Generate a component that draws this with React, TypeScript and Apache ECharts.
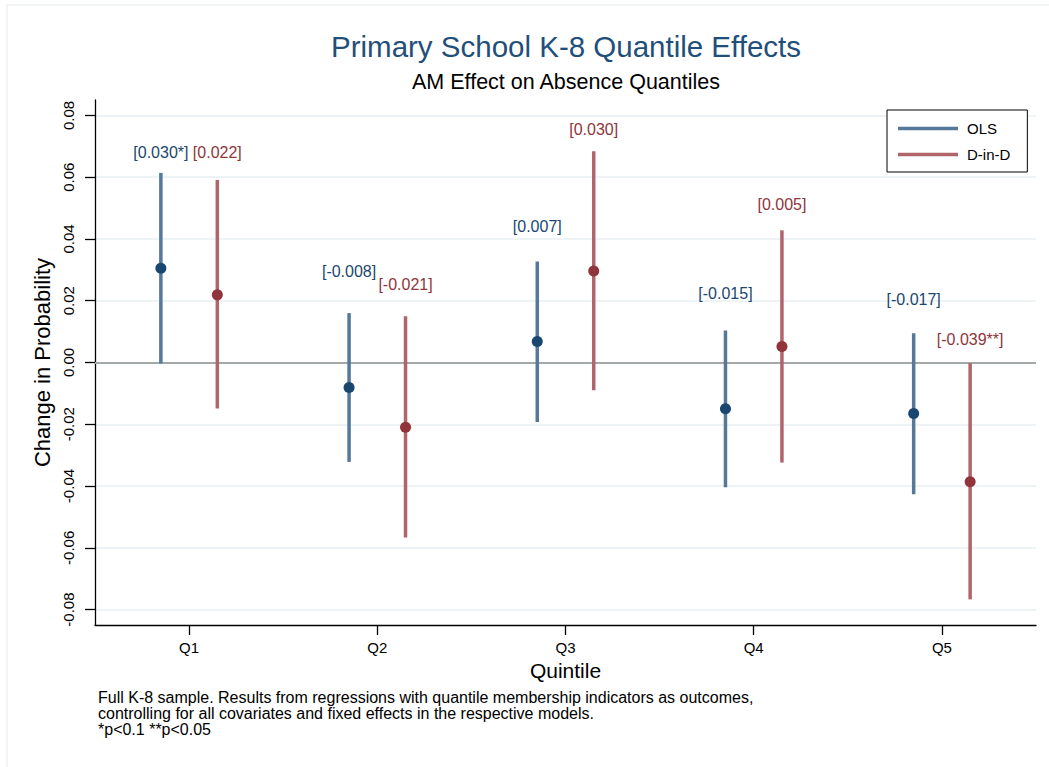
import React, { useEffect, useRef } from "react";
import * as echarts from "echarts";

const categories = ["Q1", "Q2", "Q3", "Q4", "Q5"];
const yTicks = [-0.08, -0.06, -0.04, -0.02, 0, 0.02, 0.04, 0.06, 0.08];

const olsEst = [0.0305, -0.0081, 0.0068, -0.015, -0.0165];
const olsLo = [-0.0003, -0.0322, -0.0193, -0.0404, -0.0427];
const olsHi = [0.0614, 0.016, 0.0327, 0.0104, 0.0095];
const olsLabels = ["[0.030*]", "[-0.008]", "[0.007]", "[-0.015]", "[-0.017]"];
const olsLabelAt = [0.0681, 0.0294, 0.044, 0.0224, 0.0205];

const didEst = [0.0219, -0.021, 0.0296, 0.0052, -0.0386];
const didLo = [-0.0149, -0.0567, -0.009, -0.0324, -0.0767];
const didHi = [0.0591, 0.015, 0.0684, 0.0428, -0.0002];
const didLabels = ["[0.022]", "[-0.021]", "[0.030]", "[0.005]", "[-0.039**]"];
const didLabelAt = [0.0681, 0.0254, 0.0754, 0.0511, 0.0073];

const FONT = "Arial, 'Liberation Sans', Helvetica, sans-serif";

const OLS_DARK = "#1a476f";
const OLS_LINE = "#55789b";
const DID_DARK = "#90353b";
const DID_LINE = "#b0656b";

function makeSeries(
  name: string,
  est: number[],
  lo: number[],
  hi: number[],
  labels: string[],
  labelAt: number[],
  side: number,
  dark: string,
  light: string,
  withZero: boolean
) {
  const data = categories.map((_, i) => [i, lo[i], hi[i], est[i], labelAt[i]]);
  const s: any = {
    name,
    type: "custom",
    itemStyle: { color: light },
    data,
    encode: { x: 0, y: [1, 2, 3, 4] },
    renderItem: (params: any, api: any) => {
      const idx = params.dataIndex;
      const cat = api.value(0);
      const band = api.size([1, 0])[0];
      const off = side * band * 0.15;
      const pLo = api.coord([cat, api.value(1)]);
      const pHi = api.coord([cat, api.value(2)]);
      const pEst = api.coord([cat, api.value(3)]);
      const pLab = api.coord([cat, api.value(4)]);
      const x = pEst[0] + off;
      return {
        type: "group",
        children: [
          {
            type: "line",
            shape: { x1: x, y1: pLo[1], x2: x, y2: pHi[1] },
            style: { stroke: light, lineWidth: 3.5 },
          },
          {
            type: "circle",
            shape: { cx: x, cy: pEst[1], r: 5.5 },
            style: { fill: dark },
          },
          {
            type: "text",
            x,
            y: pLab[1],
            style: {
              text: labels[idx],
              fill: dark,
              font: `16px ${FONT}`,
              textAlign: "center",
              textVerticalAlign: "middle",
            },
          },
        ],
      };
    },
  };
  if (withZero) {
    s.markLine = {
      silent: true,
      symbol: "none",
      label: { show: false },
      lineStyle: { color: "#a3a8ab", width: 2, type: "solid" },
      data: [{ yAxis: 0 }],
      z: 1,
    };
  }
  return s;
}

export default function App() {
  const ref = useRef<HTMLDivElement>(null);
  useEffect(() => {
    document.body.style.margin = "0";
    document.body.style.overflow = "hidden";
    if (!ref.current) return;
    const chart = echarts.init(ref.current, null, { renderer: "svg" });
    chart.setOption({
      animation: false,
      backgroundColor: "#ffffff",
      textStyle: { fontFamily: FONT },
      title: [
        {
          text: "Primary School K-8 Quantile Effects",
          left: 566,
          top: 31,
          padding: 0,
          textAlign: "center",
          textStyle: { fontSize: 29.5, fontWeight: "normal", color: "#1f4f7a", fontFamily: FONT },
        },
        {
          text: "AM Effect on Absence Quantiles",
          left: 566,
          top: 71,
          padding: 0,
          textAlign: "center",
          textStyle: { fontSize: 21.5, fontWeight: "normal", color: "#000", fontFamily: FONT },
        },
        {
          text:
            "Full K-8 sample. Results from regressions with quantile membership indicators as outcomes,\ncontrolling for all covariates and fixed effects in the respective models.\n*p<0.1 **p<0.05",
          left: 98,
          top: 689,
          padding: 0,
          textStyle: { fontSize: 16, fontWeight: "normal", color: "#000", lineHeight: 16, fontFamily: FONT },
        },
      ],
      graphic: [
        {
          type: "rect",
          shape: { x: 7, y: 5, width: 1200, height: 1000 },
          style: { fill: "none", stroke: "#e4ebef", lineWidth: 1 },
          silent: true,
          z: -1,
        },
      ],
      legend: {
        left: 887,
        top: 110,
        orient: "vertical",
        backgroundColor: "#fff",
        borderColor: "#000",
        borderWidth: 1,
        padding: [11, 17, 10, 11],
        itemGap: 11,
        itemWidth: 60,
        itemHeight: 3.5,
        textStyle: { fontSize: 15, color: "#000", fontFamily: FONT, padding: [0, 0, 0, 4] },
        data: [
          { name: "OLS", icon: "rect", itemStyle: { color: OLS_LINE } },
          { name: "D-in-D", icon: "rect", itemStyle: { color: DID_LINE } },
        ],
      },
      grid: { left: 95, right: 13, top: 100, bottom: 142, containLabel: false },
      xAxis: {
        type: "category",
        data: categories,
        boundaryGap: true,
        name: "Quintile",
        nameLocation: "middle",
        nameGap: 34,
        nameTextStyle: { fontSize: 21, color: "#000", fontFamily: FONT },
        axisLine: { show: true, onZero: false, lineStyle: { color: "#000", width: 1.3 } },
        axisTick: { show: true, alignWithLabel: true, length: 10, lineStyle: { color: "#000", width: 1.3 } },
        axisLabel: { fontSize: 15, color: "#000", margin: 15, fontFamily: FONT },
        splitLine: { show: false },
      },
      yAxis: {
        type: "value",
        min: -0.085,
        max: 0.085,
        name: "Change in Probability",
        nameLocation: "middle",
        nameGap: 37,
        nameTextStyle: { fontSize: 22, color: "#000", fontFamily: FONT },
        axisLine: { show: true, lineStyle: { color: "#000", width: 1.3 } },
        axisTick: { show: true, length: 10, customValues: yTicks, lineStyle: { color: "#000", width: 1.3 } },
        axisLabel: {
          customValues: yTicks,
          rotate: 90,
          fontSize: 15,
          color: "#000",
          margin: 19,
          fontFamily: FONT,
          formatter: (v: number) => v.toFixed(2),
        },
        splitLine: { show: true, lineStyle: { color: "#e9eff3", width: 1.6 } },
      },
      series: [
        makeSeries("OLS", olsEst, olsLo, olsHi, olsLabels, olsLabelAt, -1, OLS_DARK, OLS_LINE, true),
        makeSeries("D-in-D", didEst, didLo, didHi, didLabels, didLabelAt, 1, DID_DARK, DID_LINE, false),
      ],
    });
    return () => chart.dispose();
  }, []);
  return <div ref={ref} style={{ width: 1049, height: 767 }} />;
}
